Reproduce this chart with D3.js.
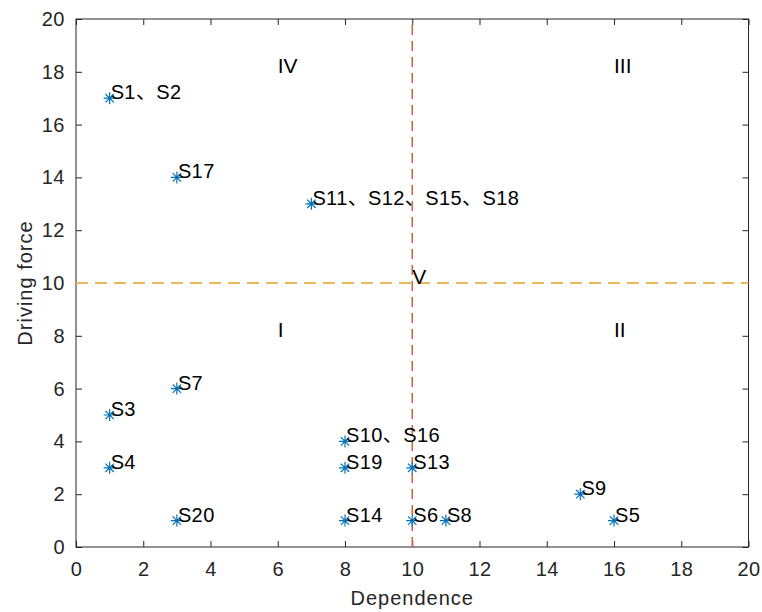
<!DOCTYPE html>
<html>
<head>
<meta charset="utf-8">
<script src="https://cdn.jsdelivr.net/npm/d3@7"></script>
<style>
  body { margin: 0; background: #fff; }
  text { font-family: Arial, "Liberation Sans", "Noto Sans CJK SC", sans-serif; }
</style>
</head>
<body>
<script>
// factors: dependence (x) vs driving force (y)
const dependence = [1, 3, 7, 3, 1, 1, 3, 8, 8, 10, 8, 10, 11, 15, 16];
const driving    = [17, 14, 13, 6, 5, 3, 1, 4, 3, 3, 1, 1, 1, 2, 1];
const names = ["S1、S2", "S17", "S11、S12、S15、S18", "S7", "S3", "S4", "S20",
  "S10、S16", "S19", "S13", "S14", "S6", "S8", "S9", "S5"];

const zoneNames = ["I", "II", "III", "IV", "V"];
const zoneX = [6, 16, 16, 6, 10];
const zoneY = [8, 8, 18, 18, 10];

const ticks = [0, 2, 4, 6, 8, 10, 12, 14, 16, 18, 20];
const divide = 10;

const W = 762, H = 612;
const mLeft = 76, mRight = 748.5, mTop = 19, mBottom = 547;

let svg = d3.select("body").append("svg")
  .attr("width", W)
  .attr("height", H);

let x = d3.scaleLinear().domain([0, 20]).range([mLeft, mRight]);
let y = d3.scaleLinear().domain([0, 20]).range([mBottom, mTop]);

const axisColor = "#262626";

// box + inward ticks on all four sides
svg.append("rect")
  .attr("x", mLeft).attr("y", mTop)
  .attr("width", mRight - mLeft).attr("height", mBottom - mTop)
  .attr("fill", "none").attr("stroke", axisColor).attr("stroke-width", 1);

let xb = svg.append("g").attr("transform", `translate(0,${mBottom})`)
  .call(d3.axisBottom(x).tickValues(ticks).tickSizeInner(-6).tickSizeOuter(0).tickPadding(15));
let xt = svg.append("g").attr("transform", `translate(0,${mTop})`)
  .call(d3.axisTop(x).tickValues(ticks).tickSizeInner(-6).tickSizeOuter(0).tickFormat(""));
let yl = svg.append("g").attr("transform", `translate(${mLeft},0)`)
  .call(d3.axisLeft(y).tickValues(ticks).tickSizeInner(-6).tickSizeOuter(0).tickPadding(11));
let yr = svg.append("g").attr("transform", `translate(${mRight},0)`)
  .call(d3.axisRight(y).tickValues(ticks).tickSizeInner(-6).tickSizeOuter(0).tickFormat(""));

[xb, xt, yl, yr].forEach(g => {
  g.select(".domain").remove();
  g.selectAll("line").attr("stroke", axisColor);
  g.selectAll("text").attr("fill", axisColor).attr("font-size", "20px")
    .attr("letter-spacing", "0.5px")
    .attr("font-family", "Arial, 'Liberation Sans', sans-serif");
});

// axis titles
svg.append("text")
  .attr("x", (mLeft + mRight) / 2)
  .attr("y", 605)
  .attr("text-anchor", "middle")
  .attr("font-size", "20px")
  .attr("letter-spacing", "1px")
  .attr("fill", axisColor)
  .text("Dependence");

svg.append("text")
  .attr("transform", `translate(32,${(mTop + mBottom) / 2}) rotate(-90)`)
  .attr("text-anchor", "middle")
  .attr("font-size", "20px")
  .attr("letter-spacing", "1px")
  .attr("fill", axisColor)
  .text("Driving force");

// dividing dashed lines
svg.append("line")
  .attr("x1", x(divide)).attr("x2", x(divide))
  .attr("y1", y(0)).attr("y2", y(20))
  .attr("stroke", "#C9683C").attr("stroke-width", 1.5)
  .attr("stroke-dasharray", "10,6");

svg.append("line")
  .attr("x1", x(0)).attr("x2", x(20))
  .attr("y1", y(divide)).attr("y2", y(divide))
  .attr("stroke", "#EDB75A").attr("stroke-width", 1.8)
  .attr("stroke-dasharray", "12,7");

// asterisk markers
const pts = dependence.map((d, i) => ({ x: d, y: driving[i], name: names[i] }));
const r = 6;
let marks = svg.selectAll(null)
  .data(pts)
  .enter()
  .append("g")
    .attr("transform", d => `translate(${x(d.x)},${y(d.y)})`);

marks.append("path")
  .attr("d", `M${-r},0H${r}M0,${-r}V${r}M${-r*0.7},${-r*0.7}L${r*0.7},${r*0.7}M${-r*0.7},${r*0.7}L${r*0.7},${-r*0.7}`)
  .attr("stroke", "#0072BD")
  .attr("stroke-width", 1.2)
  .attr("fill", "none");

// point labels
svg.selectAll(null)
  .data(pts)
  .enter()
  .append("text")
    .attr("x", d => x(d.x) + 1)
    .attr("y", d => y(d.y) + 1)
    .attr("font-size", "20px")
    .attr("letter-spacing", "0.4px")
    .attr("fill", "#000")
    .text(d => d.name);

// zone numerals
svg.selectAll(null)
  .data(zoneNames)
  .enter()
  .append("text")
    .attr("x", (d, i) => x(zoneX[i]))
    .attr("y", (d, i) => y(zoneY[i]) + 1)
    .attr("font-size", "21px")
    .attr("fill", "#000")
    .text(d => d);
</script>
</body>
</html>
